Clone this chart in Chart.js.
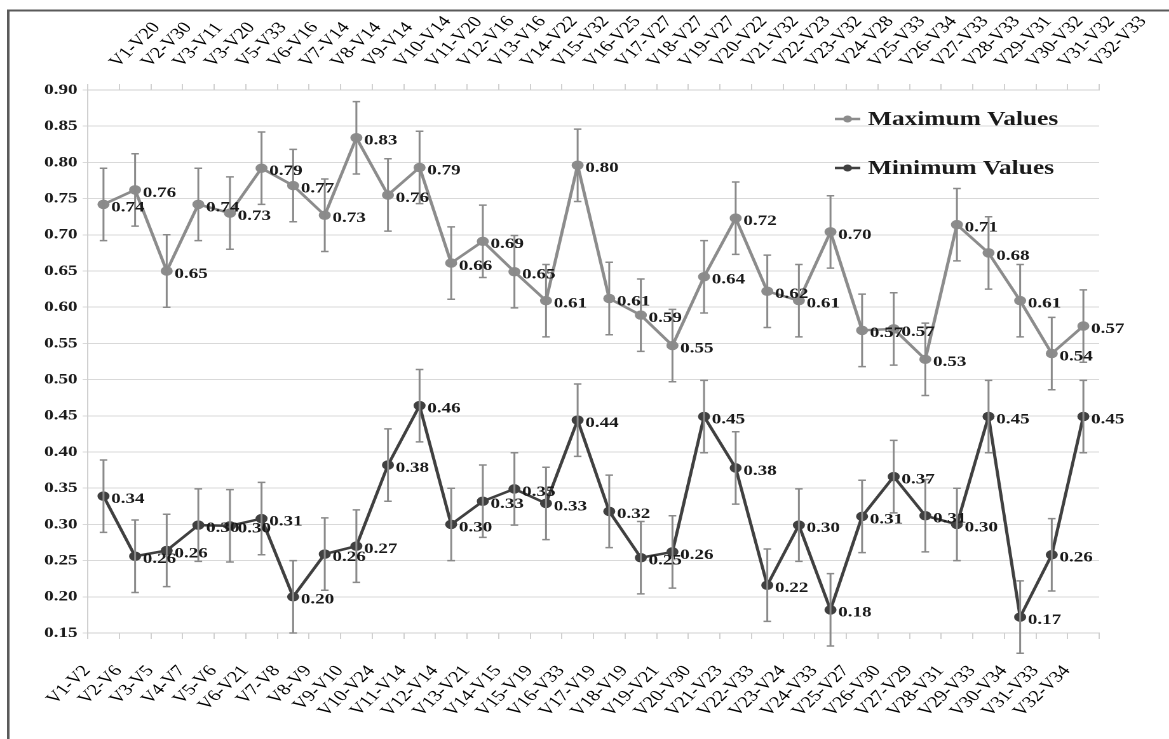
<!DOCTYPE html>
<html>
<head>
<meta charset="utf-8">
<script src="https://cdn.jsdelivr.net/npm/chart.js@4"></script>
<style>
  html, body { margin: 0; padding: 0; background: #fff; overflow: hidden; }
  /* the source picture is stretched sideways, so the chart is too */
  #wrap { width: 920px; height: 739px; transform: scaleX(1.2707); transform-origin: 0 0; }
</style>
</head>
<body>
<div id="wrap"><canvas id="chart"></canvas></div>
<script>
var bottomLabels = ['V1-V2', 'V2-V6', 'V3-V5', 'V4-V7', 'V5-V6', 'V6-V21', 'V7-V8', 'V8-V9',
  'V9-V10', 'V10-V24', 'V11-V14', 'V12-V14', 'V13-V21', 'V14-V15', 'V15-V19', 'V16-V33',
  'V17-V19', 'V18-V19', 'V19-V21', 'V20-V30', 'V21-V23', 'V22-V33', 'V23-V24', 'V24-V33',
  'V25-V27', 'V26-V30', 'V27-V29', 'V28-V31', 'V29-V33', 'V30-V34', 'V31-V33', 'V32-V34'];

var topLabels = ['V1-V20', 'V2-V30', 'V3-V11', 'V3-V20', 'V5-V33', 'V6-V16', 'V7-V14', 'V8-V14',
  'V9-V14', 'V10-V14', 'V11-V20', 'V12-V16', 'V13-V16', 'V14-V22', 'V15-V32', 'V16-V25',
  'V17-V27', 'V18-V27', 'V19-V27', 'V20-V22', 'V21-V32', 'V22-V23', 'V23-V32', 'V24-V28',
  'V25-V33', 'V26-V34', 'V27-V33', 'V28-V33', 'V29-V31', 'V30-V32', 'V31-V32', 'V32-V33'];

var maxValues = [0.742, 0.762, 0.650, 0.742, 0.730, 0.792, 0.768, 0.727,
  0.834, 0.755, 0.793, 0.661, 0.691, 0.649, 0.609, 0.796,
  0.612, 0.589, 0.547, 0.642, 0.723, 0.622, 0.609, 0.704,
  0.568, 0.570, 0.528, 0.714, 0.675, 0.609, 0.536, 0.574];

var minValues = [0.339, 0.256, 0.264, 0.299, 0.298, 0.308, 0.200, 0.259,
  0.270, 0.382, 0.464, 0.300, 0.332, 0.349, 0.329, 0.444,
  0.318, 0.254, 0.262, 0.449, 0.378, 0.216, 0.299, 0.182,
  0.311, 0.366, 0.312, 0.300, 0.449, 0.172, 0.258, 0.449];

var maxErr = [0.05, 0.05, 0.05, 0.05, 0.05, 0.05, 0.05, 0.05,
  0.05, 0.05, 0.05, 0.05, 0.05, 0.05, 0.05, 0.05,
  0.05, 0.05, 0.05, 0.05, 0.05, 0.05, 0.05, 0.05,
  0.05, 0.05, 0.05, 0.05, 0.05, 0.05, 0.05, 0.05];

var minErr = [0.05, 0.05, 0.05, 0.05, 0.05, 0.05, 0.05, 0.05,
  0.05, 0.05, 0.05, 0.05, 0.05, 0.05, 0.05, 0.05,
  0.05, 0.05, 0.05, 0.05, 0.05, 0.05, 0.05, 0.05,
  0.05, 0.05, 0.05, 0.05, 0.05, 0.05, 0.05, 0.05];

var yTicks = { min: 0.15, max: 0.90, step: 0.05 };

var serif = '"Liberation Serif", "Times New Roman", serif';
Chart.defaults.font.family = serif;
Chart.defaults.color = '#1a1a1a';

// outer frame of the figure
var framePlugin = {
  id: 'frame',
  beforeDraw: function (chart) {
    var ctx = chart.ctx;
    ctx.save();
    ctx.strokeStyle = '#5a5a5a';
    ctx.lineWidth = 2;
    ctx.beginPath();
    ctx.moveTo(6.5, chart.height);
    ctx.lineTo(6.5, 10.5);
    ctx.lineTo(chart.width, 10.5);
    ctx.stroke();
    ctx.restore();
  }
};

// slanted category labels, top and bottom
var catLabelsPlugin = {
  id: 'catLabels',
  afterDraw: function (chart) {
    var ctx = chart.ctx;
    var xb = chart.scales.x, xt = chart.scales.x2;
    var rot = -50 * Math.PI / 180;
    ctx.save();
    ctx.font = '16px ' + serif;
    ctx.fillStyle = '#000';
    ctx.textBaseline = 'middle';
    bottomLabels.forEach(function (lab, i) {
      ctx.save();
      ctx.translate(xb.getPixelForTick(i) - 13, xb.top + 35);
      ctx.rotate(rot);
      ctx.textAlign = 'right';
      ctx.fillText(lab, 0, 0);
      ctx.restore();
    });
    topLabels.forEach(function (lab, i) {
      ctx.save();
      ctx.translate(xt.getPixelForTick(i) + 8, xt.bottom - 25);
      ctx.rotate(rot);
      ctx.textAlign = 'left';
      ctx.fillText(lab, 0, 0);
      ctx.restore();
    });
    ctx.restore();
  }
};

// error bars and value labels
var extrasPlugin = {
  id: 'extras',
  afterDatasetsDraw: function (chart) {
    var ctx = chart.ctx;
    var y = chart.scales.y;
    ctx.save();
    chart.data.datasets.forEach(function (ds, di) {
      var meta = chart.getDatasetMeta(di);
      ctx.strokeStyle = '#8a8a8a';
      ctx.lineWidth = 1.5;
      meta.data.forEach(function (pt, i) {
        var top = y.getPixelForValue(ds.data[i] + ds.err[i]);
        var bot = y.getPixelForValue(ds.data[i] - ds.err[i]);
        ctx.beginPath();
        ctx.moveTo(pt.x, top);
        ctx.lineTo(pt.x, bot);
        ctx.moveTo(pt.x - 3, top);
        ctx.lineTo(pt.x + 3, top);
        ctx.moveTo(pt.x - 3, bot);
        ctx.lineTo(pt.x + 3, bot);
        ctx.stroke();
      });
    });
    ctx.font = 'bold 15px ' + serif;
    ctx.fillStyle = '#1a1a1a';
    ctx.textAlign = 'left';
    ctx.textBaseline = 'middle';
    chart.data.datasets.forEach(function (ds, di) {
      var meta = chart.getDatasetMeta(di);
      meta.data.forEach(function (pt, i) {
        ctx.fillText(ds.data[i].toFixed(2), pt.x + 6, pt.y + 3);
      });
    });
    ctx.restore();
  }
};

// legend inside the plot, top right
var legendPlugin = {
  id: 'insideLegend',
  afterDraw: function (chart) {
    var ctx = chart.ctx;
    var x0 = 657, rows = [119, 168];
    ctx.save();
    chart.data.datasets.forEach(function (ds, i) {
      var yy = rows[i];
      ctx.strokeStyle = ds.borderColor;
      ctx.lineWidth = 2.5;
      ctx.beginPath();
      ctx.moveTo(x0, yy);
      ctx.lineTo(x0 + 20, yy);
      ctx.stroke();
      ctx.fillStyle = ds.borderColor;
      ctx.beginPath();
      ctx.arc(x0 + 10, yy, 3.5, 0, Math.PI * 2);
      ctx.fill();
      ctx.fillStyle = '#1a1a1a';
      ctx.font = 'bold 20px ' + serif;
      ctx.textAlign = 'left';
      ctx.textBaseline = 'middle';
      ctx.fillText(ds.label, x0 + 26, yy + 1);
    });
    ctx.restore();
  }
};

var ctx = document.getElementById('chart');
new Chart(ctx, {
  type: 'line',
  data: {
    labels: bottomLabels,
    datasets: [{
      label: 'Maximum Values',
      data: maxValues,
      err: maxErr,
      borderColor: '#8c8c8c',
      backgroundColor: '#8c8c8c',
      borderWidth: 2.5,
      pointRadius: 3.5,
      pointHoverRadius: 3.5,
      tension: 0,
      xAxisID: 'x'
    }, {
      label: 'Minimum Values',
      data: minValues,
      err: minErr,
      borderColor: '#404040',
      backgroundColor: '#404040',
      borderWidth: 2.5,
      pointRadius: 3.5,
      pointHoverRadius: 3.5,
      tension: 0,
      xAxisID: 'x'
    }]
  },
  options: {
    responsive: true,
    maintainAspectRatio: false,
    animation: false,
    devicePixelRatio: 2,
    layout: { padding: { left: 0, right: 55, top: 0, bottom: 0 } },
    plugins: {
      legend: { display: false },
      tooltip: { enabled: false }
    },
    scales: {
      x: {
        type: 'category',
        position: 'bottom',
        offset: true,
        grid: { offset: true, drawOnChartArea: false, tickLength: 6, color: '#d0d0d0' },
        border: { color: '#d0d0d0' },
        ticks: { display: false, autoSkip: false },
        afterFit: function (s) { s.height = 106; }
      },
      x2: {
        type: 'category',
        position: 'top',
        labels: topLabels,
        offset: true,
        grid: { offset: true, drawOnChartArea: false, tickLength: 6, color: '#d0d0d0' },
        border: { color: '#d0d0d0' },
        ticks: { display: false, autoSkip: false },
        afterFit: function (s) { s.height = 90; }
      },
      y: {
        min: yTicks.min,
        max: yTicks.max,
        grid: { color: '#d9d9d9', tickLength: 4 },
        border: { color: '#d0d0d0' },
        ticks: {
          stepSize: yTicks.step,
          padding: 4,
          color: '#1a1a1a',
          font: { size: 15, weight: 'bold' },
          callback: function (v) { return v.toFixed(2); }
        },
        afterFit: function (s) { s.width = 69; }
      }
    }
  },
  plugins: [framePlugin, extrasPlugin, catLabelsPlugin, legendPlugin]
});
</script>
</body>
</html>
